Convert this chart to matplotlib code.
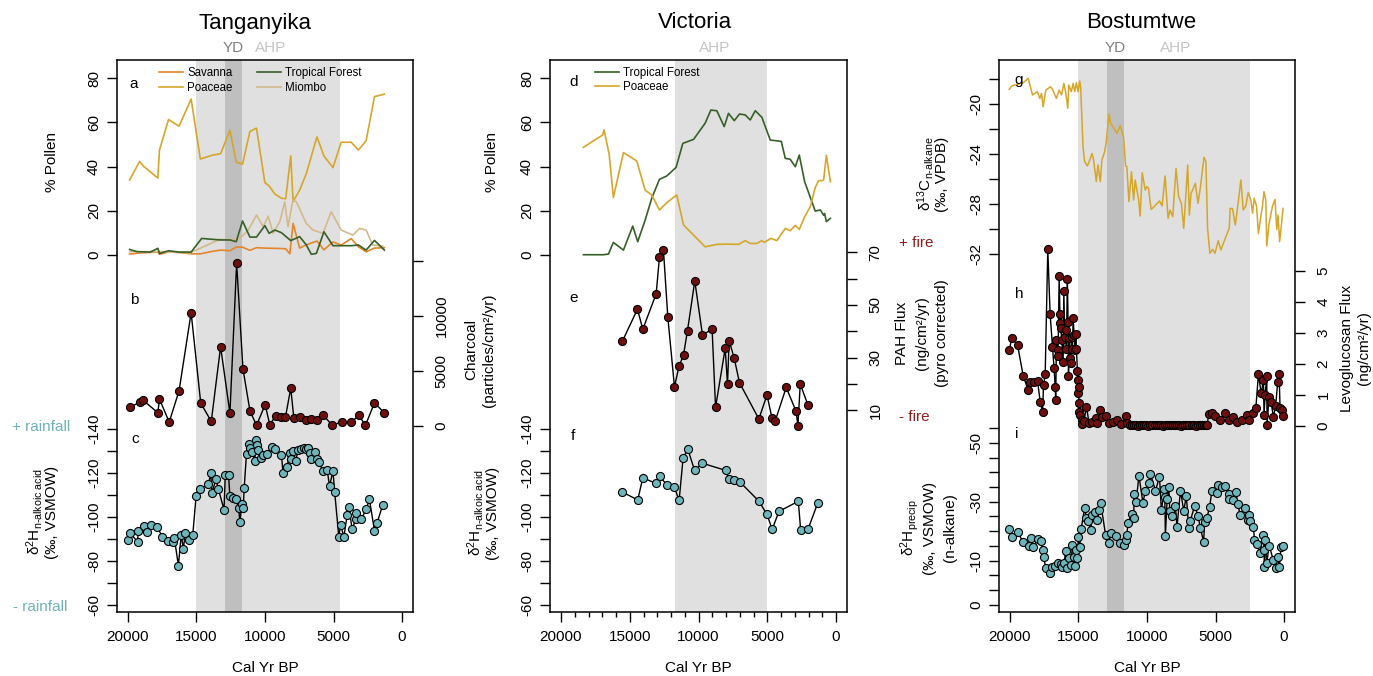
import matplotlib
matplotlib.use('Agg')
import matplotlib.pyplot as plt

plt.rcParams['font.family'] = ['Liberation Sans', 'DejaVu Sans']
plt.rcParams['mathtext.fontset'] = 'custom'
plt.rcParams['mathtext.rm'] = 'Liberation Sans'
plt.rcParams['mathtext.it'] = 'Liberation Sans:italic'
plt.rcParams['mathtext.default'] = 'rm'

# ---------------- DATA ----------------
# Tanganyika pollen (%)
T_poa_age = [19880, 19150, 18860, 17820, 17700, 17040, 16270, 15390, 14720, 13870, 13240, 12560, 12100, 11640,
             11100, 10620, 10010, 9700, 9290, 8800, 8490, 8120, 7950, 7470, 6980, 6210, 5700, 5040, 4440, 3710,
             3180, 2620, 2010, 1290]
T_poa_val = [33.9, 42.3, 40.1, 34.8, 47.5, 61.3, 58.3, 70.6, 43.4, 45.1, 45.8, 56.4, 42.0, 41.1,
             55.9, 57.4, 32.7, 31.2, 27.6, 25.6, 25.4, 44.8, 24.2, 29.3, 36.9, 53.4, 44.8, 39.5, 51.0, 51.0,
             47.5, 51.7, 71.7, 72.8]
T_sav_age = [19880, 19150, 18860, 17820, 17700, 17040, 16270, 15390, 14720, 13870, 13240, 12560, 12100, 11640,
             11100, 10620, 10010, 9290, 8800, 8490, 8190, 7950, 7470, 6980, 6210, 5700, 5040, 4440, 3710, 3180,
             2620, 2010, 1290]
T_sav_val = [0.3, 0.8, 0.9, 1.2, 0.2, 1.3, 1.0, 0.4, 0.4, 1.5, 2.1, 1.8, 3.5, 3.4,
             2.0, 3.2, 3.0, 2.9, 2.8, 2.7, 0.4, 14.2, 3.0, 4.5, 6.2, 2.2, 5.8, 4.4, 7.3, 3.6,
             1.3, 3.0, 3.2]
T_tf_age = [19880, 19350, 18380, 17820, 17700, 17040, 16270, 15390, 14620, 13870, 13240, 12560, 12100, 11640,
            11100, 10620, 10010, 9700, 9290, 8800, 8120, 7470, 6980, 6620, 6250, 5700, 5040, 4440, 3710, 3180,
            2620, 2010, 1290]
T_tf_val = [2.4, 1.4, 1.2, 2.9, 0.6, 1.8, 1.2, 1.2, 7.4, 7.0, 6.7, 6.7, 5.9, 15.3,
            8.0, 8.0, 13.2, 9.7, 11.2, 10.0, 6.4, 8.2, 4.4, 0.2, 0.6, 10.4, 4.1, 4.1, 4.1, 4.4,
            2.1, 6.5, 2.1]
T_mio_age = [19880, 17650, 15470, 14740, 13290, 12560, 11830, 11220, 10620, 10130, 9770, 9410, 8920, 8560,
             8320, 7960, 7710, 6990, 6500, 5770, 5170, 4440, 3590, 3100, 2620, 2140, 1410]
T_mio_val = [1.4, 1.4, 0.9, 2.9, 7.0, 6.7, 7.4, 11.2, 18.0, 12.7, 17.5, 9.7, 15.0, 24.0,
             12.7, 24.8, 24.0, 14.2, 11.2, 9.7, 19.5, 11.2, 8.9, 11.9, 11.2, 4.4, 3.9]

# Tanganyika charcoal (particles/cm2/yr)
T_ch_age = [19880, 19150, 18910, 17820, 17700, 16990, 16270, 15390, 14690, 13920, 13240, 12560, 12070, 11610,
            11100, 10620, 9990, 9650, 9210, 8800, 8510, 8120, 7900, 7420, 6980, 6620, 6210, 5750, 5090, 4410,
            3690, 3150, 2670, 2010, 1310]
T_ch_val = [1670, 2120, 2330, 1180, 2420, 330, 3180, 10270, 2060, 390, 7180, 1150, 14760, 5180,
            1360, 30, 1910, 90, 910, 820, 760, 3420, 730, 820, 490, 610, 490, 970, 30, 360,
            330, 940, 30, 2090, 1180]

# Tanganyika dD n-alkoic acid
T_dd_age = [19980, 19880, 19300, 19250, 18810, 18620, 18330, 17890, 17480, 17090, 16730, 16610, 16320, 16120,
            15950, 15830, 15540, 15270, 15030, 14740, 14130, 13960, 13870, 13580, 13410, 12990, 12900, 12660,
            12560, 12320, 12120, 11930, 11830, 11690, 11590, 11520, 11350, 11150, 11060, 10930, 10740, 10690,
            10620, 10500, 10260, 10130, 9890, 9460, 9260, 8800, 8680, 8390, 8190, 8070, 7950, 7760, 7590,
            7350, 7180, 6980, 6860, 6690, 6620, 6380, 6210, 6060, 5770, 5460, 5290, 5040, 4920, 4610, 4490,
            4240, 4000, 3880, 3640, 3390, 3350, 2980, 2620, 2380, 2010, 1820, 1410]
T_dd_val = [-89.4, -92.8, -88.7, -93.5, -95.8, -93.1, -96.3, -95.4, -91.0, -89.1, -88.5, -90.2, -77.8, -91.6,
            -85.4, -92.8, -89.4, -91.9, -109.3, -112.7, -114.8, -119.8, -110.9, -117.2, -112.8, -103.3, -119.1,
            -119.1, -109.3, -108.4, -108.1, -104.2, -97.8, -106.0, -103.9, -113.1, -128.8, -133.0, -131.2,
            -129.7, -125.4, -135.0, -132.7, -130.4, -126.6, -128.2, -128.6, -132.0, -130.7, -128.2, -119.8,
            -122.8, -128.9, -126.3, -130.1, -125.4, -130.4, -130.7, -131.2, -130.9, -131.2, -128.9, -126.3,
            -129.7, -126.5, -124.8, -120.9, -121.3, -114.0, -120.9, -111.5, -90.7, -96.3, -91.0, -101.0,
            -104.6, -94.3, -98.9, -101.9, -98.9, -103.4, -108.0, -93.7, -97.3, -105.4]

# Victoria pollen (%)
V_tf_age = [18370, 16920, 16550, 16190, 15460, 14780, 14420, 13880, 13400, 12840, 12310, 11630, 11140, 10360,
            9520, 9100, 8670, 8130, 7820, 7400, 7020, 6600, 6240, 5870, 5390, 4780, 3980, 3690, 3330, 2960,
            2670, 2280, 1510, 1140, 900, 830, 700, 410]
V_tf_val = [0, 0, 0.3, 5.6, 2.1, 13.0, 5.9, 15.7, 25.6, 34.2, 35.7, 39.6, 50.5, 52.3,
            59.6, 65.6, 65.3, 58.1, 64.1, 60.8, 63.8, 63.4, 61.1, 65.3, 62.3, 52.0, 51.4, 43.7, 43.3, 39.9,
            45.2, 33.1, 19.8, 20.3, 17.9, 18.7, 15.0, 16.5]
V_po_age = [18370, 16970, 16870, 16500, 16190, 15460, 14490, 13880, 13400, 12840, 12310, 11580, 11090, 10360,
            9520, 8670, 7940, 7090, 6600, 6240, 5750, 5390, 5220, 4730, 4300, 3690, 3330, 2960, 2670, 2280,
            1870, 1510, 1260, 1020, 900, 700, 410]
V_po_val = [48.7, 54.3, 56.6, 45.7, 26.0, 46.3, 42.5, 29.3, 27.1, 20.3, 23.6, 27.1, 13.5, 8.9,
            3.6, 4.7, 4.8, 4.7, 6.4, 5.1, 5.1, 6.4, 5.6, 7.4, 6.4, 11.9, 10.9, 13.3, 11.5, 17.2,
            21.8, 30.5, 33.6, 33.6, 33.9, 45.1, 33.1]

# Victoria PAH flux
V_pah_age = [15530, 14440, 14050, 13080, 12840, 12550, 12230, 11750, 11410, 11090, 10800, 10270, 9710, 9010,
             8760, 8060, 7890, 7770, 7400, 7020, 5610, 5020, 4660, 4420, 3620, 2910, 2770, 2600, 2040]
V_pah_val = [36.3, 48.4, 40.8, 54.2, 68.1, 70.9, 45.3, 19.0, 26.8, 31.0, 40.3, 59.1, 38.6, 40.8,
             11.1, 33.5, 20.0, 36.5, 29.7, 20.5, 6.7, 15.8, 7.2, 6.0, 18.7, 9.7, 4.2, 20.0, 12.0]

# Victoria dD n-alkoic acid
V_dd_age = [15530, 14420, 14050, 13110, 12820, 12260, 11750, 11410, 11120, 10780, 10290, 9710, 8030, 7790,
            7400, 6990, 5610, 5020, 4640, 4150, 2740, 2570, 2040, 1340]
V_dd_val = [-111.3, -107.7, -117.8, -115.3, -118.4, -114.3, -113.4, -107.5, -126.8, -130.9, -121.3, -124.4,
            -121.2, -117.4, -116.8, -115.9, -107.2, -101.1, -94.3, -102.5, -107.1, -94.0, -94.3, -106.1]

# Bostumtwe d13C n-alkane
B_c13_age = [20050, 19860, 19640, 19320, 19030, 18670, 18350, 18010, 17820, 17700,
             17580, 17380, 17040, 16900, 16610, 16410, 16240, 16070, 15930, 15780,
             15710, 15520, 15390, 15270, 15150, 15030, 14910, 14840, 14670, 14550,
             14350, 14180, 14010, 13890, 13700, 13580, 13410, 13290, 13090, 12970,
             12780, 12660, 12490, 12190, 11950, 11710, 11560, 11470, 11320, 11130,
             10980, 10860, 10740, 10620, 10500, 10350, 10130, 10010, 9890, 9700,
             9530, 9090, 8900, 8680, 8460, 8320, 8120, 7880, 7690, 7490,
             7320, 7030, 6910, 6790, 6670, 6470, 6280, 6130, 5840, 5700,
             5580, 5410, 5210, 5040, 4800, 4610, 4240, 4000, 3930, 3760,
             3560, 3440, 3150, 2980, 2790, 2620, 2420, 2300, 2180, 2010,
             1870, 1700, 1580, 1460, 1330, 1260, 1090, 850, 660, 530,
             440, 320, 70]
B_c13_val = [-18.86, -18.59, -18.51, -18.43, -18.33, -17.98, -19.31, -19.04, -19.58, -19.18,
             -20.24, -18.91, -18.65, -18.86, -19.58, -18.91, -19.31, -18.38, -19.12, -20.37,
             -18.51, -19.04, -18.38, -19.04, -18.33, -19.04, -18.19, -18.70, -23.42, -24.62,
             -24.96, -24.49, -23.96, -24.54, -26.21, -24.88, -26.21, -24.49, -23.82, -23.03,
             -20.82, -21.57, -21.83, -22.36, -21.75, -22.68, -24.96, -25.02, -27.80, -25.42,
             -27.67, -26.08, -26.88, -27.54, -28.95, -25.50, -26.88, -26.61, -26.74, -28.42,
             -28.26, -27.75, -28.15, -25.76, -29.13, -28.47, -29.00, -25.15, -27.41, -27.94,
             -29.93, -24.88, -28.87, -27.14, -26.88, -26.34, -27.94, -26.88, -24.27, -24.62,
             -29.93, -31.92, -31.60, -31.92, -30.91, -31.65, -30.59, -29.93, -28.34, -28.36,
             -29.66, -28.73, -26.08, -28.47, -28.15, -27.09, -27.67, -28.73, -27.54, -28.15,
             -30.33, -29.00, -28.20, -27.01, -27.67, -31.33, -29.53, -28.20, -27.62, -30.01,
             -28.87, -30.99, -28.34]

# Bostumtwe levoglucosan flux
B_lev_age = [20050, 19860, 19440, 19030, 18670, 18520, 18230, 17990, 17790, 17620,
             17550, 17430, 17240, 17070, 16900, 16780, 16700, 16660, 16610, 16530,
             16490, 16410, 16360, 16340, 16290, 16220, 16120, 16070, 16000, 15930,
             15880, 15810, 15760, 15730, 15660, 15610, 15560, 15490, 15440, 15390,
             15320, 15250, 15200, 15150, 15080, 15040, 15010, 14990, 14960, 14930,
             14900, 14760, 14720, 14600, 14420, 14230, 13990, 13750, 13620, 13430,
             13310, 13020, 12780, 12500, 12170, 11930, 11560, 11440,
             11250, 11100, 10950, 10800, 10650, 10500, 10350, 10200, 10050, 9900,
             9750, 9600, 9450, 9300, 9150, 9000, 8850, 8700, 8550, 8400,
             8250, 8100, 7950, 7800, 7650, 7500, 7350, 7200, 7050, 6900,
             6750, 6600, 6450, 6300, 6150, 6000, 5850, 5700, 5600,
             5500, 5260, 5020, 4660, 4290, 4050, 3690, 3440, 3080, 2720,
             2550, 2230, 2060, 1870, 1670, 1500, 1460, 1380, 1260, 1240,
             1090, 950, 780, 610, 460, 360, 290, 170, 50]
B_lev_val = [2.44, 2.84, 2.59, 1.60, 1.15, 1.42, 1.42, 1.44, 0.78, 0.44,
             1.31, 1.66, 5.70, 3.60, 2.55, 1.85, 1.26, 0.83, 2.76, 2.44,
             2.25, 4.83, 3.60, 3.30, 3.14, 2.76, 2.06, 4.35, 2.87, 3.09,
             2.49, 4.72, 3.35, 1.60, 2.82, 2.17, 2.01, 2.87, 2.49, 3.46,
             2.92, 2.44, 2.95, 2.49, 1.77, 1.47, 1.04, 1.26, 0.72, 0.45,
             0.34, 0.18, 0.04, 0.15, 0.61, 0.10, 0.13, 0.24, 0.08, 0.51,
             0.29, 0.31, 0.08, 0.12, 0.18, 0.05, 0.31, 0.08,
             0.02, 0.03, 0.01, 0.02, 0.00, 0.02, 0.01, 0.03, 0.02, 0.00,
             0.02, 0.01, 0.03, 0.02, 0.01, 0.02, 0.00, 0.02, 0.03, 0.01,
             0.02, 0.02, 0.01, 0.03, 0.02, 0.00, 0.02, 0.01, 0.03, 0.02,
             0.01, 0.02, 0.00, 0.02, 0.01, 0.03, 0.02, 0.01, 0.03,
             0.38, 0.40, 0.31, 0.20, 0.40, 0.18, 0.29, 0.13, 0.18, 0.34,
             0.18, 0.40, 0.56, 1.66, 1.04, 1.47, 0.34, 0.99, 1.60, 0.02,
             0.94, 0.77, 0.29, 0.65, 1.42, 1.66, 0.56, 0.51, 0.32]

# Bostumtwe dD precip (n-alkane)
B_dd_age = [20050, 19860, 19440, 19030, 18640, 18470, 18300, 17990, 17750, 17620,
            17550, 17380, 17090, 16900, 16700, 16530, 16290, 16170, 16050, 15930,
            15810, 15690, 15560, 15440, 15320, 15250, 15150, 15080, 15010, 14910,
            14810, 14550, 14420, 14280, 14110, 13990, 13790, 13620, 13500, 13380,
            13020, 12780, 12660, 12240, 12000, 11690, 11560, 11490, 11370, 11130,
            10960, 10950, 10790, 10590, 10300, 10110, 9870, 9750, 9380, 9090,
            8950, 8730, 8700, 8660, 8530, 8410, 8340, 8170, 7930, 7810,
            7560, 7320, 7130, 6960, 6840, 6520, 6280, 6110, 5870, 5790,
            5620, 5430, 5260, 4900, 4820, 4530, 4290, 4050, 4000, 3690,
            3520, 3370, 3200, 2840, 2640, 2590, 2470, 2230, 2160, 1990,
            1750, 1500, 1460, 1430, 1380, 1260, 1090, 780, 610, 460,
            340, 220, 100]
B_dd_val = [-25.7, -23.1, -24.6, -21.3, -20.0, -22.8, -19.7, -22.2, -21.8, -18.6,
            -16.3, -12.4, -10.7, -12.9, -13.2, -14.1, -13.8, -12.9, -14.3, -18.4,
            -12.4, -15.8, -13.5, -20.3, -16.3, -13.2, -18.6, -15.8, -22.9, -19.7,
            -25.6, -32.8, -29.4, -28.6, -25.4, -30.5, -31.6, -28.8, -32.2, -34.5,
            -23.7, -21.1, -24.5, -23.4, -21.1, -20.3, -22.0, -23.6, -27.9, -30.8,
            -29.4, -37.6, -35.0, -43.9, -34.7, -38.8, -41.3, -44.5, -38.8, -43.5,
            -32.2, -39.2, -36.7, -23.4, -35.8, -39.9, -32.0, -30.2, -33.6, -26.5,
            -38.8, -31.9, -37.1, -26.2, -28.6, -33.6, -30.3, -26.2, -21.4, -28.2,
            -29.6, -33.3, -38.8, -37.9, -40.7, -40.1, -40.4, -37.6, -35.9, -35.6,
            -38.3, -34.1, -30.5, -33.0, -28.8, -30.5, -28.6, -26.5, -22.0, -20.5,
            -17.7, -23.7, -18.6, -12.7, -22.0, -14.1, -20.1, -15.2, -12.4, -16.3,
            -12.7, -19.5, -19.8]

# Periods (Cal yr BP)
T_AHP = (15000, 4500)
V_AHP = (11700, 5000)
B_AHP = (15000, 2500)
YD = (12900, 11700)

XTICKS = [20000, 15000, 10000, 5000, 0]
XLIM = (20800, -800)

# ---------------- STYLE ----------------
C_SAV = '#e3862a'
C_POA = '#d4a62a'
C_TF = '#375f28'
C_MIO = '#d3b98c'
C_FIRE = '#6e1010'
C_DD = '#6db5ba'
C_AHP = '#e0e0e0'
C_YD = '#bfbfbf'

W, H = 1373, 676
fig = plt.figure(figsize=(W / 100, H / 100), dpi=100)


def fx(x):
    return x / W


def fy(y):
    return 1 - y / H


def rect(left, right, top=60, bottom=612):
    return [left / W, 1 - bottom / H, (right - left) / W, (bottom - top) / H]


def box_axes(r, ahp, yd=None, minor=False):
    ax = fig.add_axes(r)
    ax.set_xlim(XLIM)
    ax.set_ylim(0, 1)
    ax.set_yticks([])
    ax.set_xticks(XTICKS)
    ax.set_xticklabels([str(t) for t in XTICKS])
    ax.tick_params(axis='x', direction='out', length=7, width=1, labelsize=11, pad=6)
    if minor:
        ax.set_xticks(list(range(20000, -1, -1000)), minor=True)
        ax.tick_params(axis='x', which='minor', direction='out', length=3.5, width=1)
    for s in ax.spines.values():
        s.set_linewidth(1.1)
    ax.axvspan(ahp[0], ahp[1], color=C_AHP, lw=0, zorder=0)
    if yd is not None:
        ax.axvspan(yd[0], yd[1], color=C_YD, lw=0, zorder=0)
    return ax


def overlay(r, ylim, side, ticks, labels):
    ax = fig.add_axes(r)
    ax.patch.set_visible(False)
    for s in ax.spines.values():
        s.set_visible(False)
    ax.set_xlim(XLIM)
    ax.xaxis.set_visible(False)
    ax.set_ylim(ylim)
    ax.yaxis.set_ticks_position(side)
    ax.set_yticks(ticks)
    ax.set_yticklabels(labels)
    ax.tick_params(axis='y', direction='out', length=7, width=1, labelsize=11,
                   pad=4.5 if side == 'left' else 8.5)
    for t in ax.get_yticklabels():
        t.set_rotation(90)
        t.set_va('center')
        t.set_ha('right' if side == 'left' else 'left')
    return ax


def dots(ax, x, y, fc):
    ax.plot(x, y, '-', color='black', lw=1.0, marker='o', ms=5.8, mfc=fc, mec='black', mew=0.8, zorder=3)


def vtext(x, y, s, **kw):
    fig.text(fx(x), fy(y), s, rotation=90, ha='center', va='center', fontsize=11, **kw)


# --- y scales (bottom, top) so that each record sits in its band ---
YL_POLLEN = (-162.0, 88.3)
YL_CHAR = (-16936, 33245)
YL_DD = (-56.7, -308.0)
YL_PAH = (-66.6, 143.05)
YL_C13 = (-60.49, -16.52)
YL_LEV = (-6.01, 11.80)
YL_DDP = (2.49, -185.26)

# ============ Tanganyika ============
r1 = rect(117, 413)
box_axes(r1, T_AHP, YD)
a1 = overlay(r1, YL_POLLEN, 'left', [0, 20, 40, 60, 80], ['0', '20', '40', '60', '80'])
l_sav, = a1.plot(T_sav_age, T_sav_val, color=C_SAV, lw=1.2, label='Savanna')
l_poa, = a1.plot(T_poa_age, T_poa_val, color=C_POA, lw=1.2, label='Poaceae')
l_mio, = a1.plot(T_mio_age, T_mio_val, color=C_MIO, lw=1.2, label='Miombo')
l_tf, = a1.plot(T_tf_age, T_tf_val, color=C_TF, lw=1.2, label='Tropical Forest')
a1.legend(handles=[l_sav, l_poa, l_tf, l_mio], ncol=2, loc='upper left', bbox_to_anchor=(0.142, 0.987),
          frameon=False, fontsize=8.3, handlelength=2.1, handletextpad=0.35, columnspacing=2.1,
          labelspacing=0.22, borderpad=0, borderaxespad=0)
b1 = overlay(r1, YL_CHAR, 'right', [0, 5000, 10000, 15000], ['0', '5000', '10000', ''])
dots(b1, T_ch_age, T_ch_val, C_FIRE)
c1 = overlay(r1, YL_DD, 'left', list(range(-140, -59, 10)),
             ['-140', '', '-120', '', '-100', '', '-80', '', '-60'])
dots(c1, T_dd_age, T_dd_val, C_DD)

# ============ Victoria ============
r2 = rect(550, 847)
box_axes(r2, V_AHP, None, minor=True)
a2 = overlay(r2, YL_POLLEN, 'left', [0, 20, 40, 60, 80], ['0', '20', '40', '60', '80'])
l_vtf, = a2.plot(V_tf_age, V_tf_val, color=C_TF, lw=1.2, label='Tropical Forest')
l_vpo, = a2.plot(V_po_age, V_po_val, color=C_POA, lw=1.2, label='Poaceae')
a2.legend(handles=[l_vtf, l_vpo], ncol=1, loc='upper left', bbox_to_anchor=(0.152, 0.987),
          frameon=False, fontsize=8.3, handlelength=2.1, handletextpad=0.35,
          labelspacing=0.15, borderpad=0, borderaxespad=0)
b2 = overlay(r2, YL_PAH, 'right', list(range(10, 71, 10)), ['10', '', '30', '', '50', '', '70'])
dots(b2, V_pah_age, V_pah_val, C_FIRE)
c2 = overlay(r2, YL_DD, 'left', list(range(-140, -59, 10)),
             ['-140', '', '-120', '', '-100', '', '-80', '', '-60'])
dots(c2, V_dd_age, V_dd_val, C_DD)

# ============ Bostumtwe ============
r3 = rect(999, 1295)
box_axes(r3, B_AHP, YD)
a3 = overlay(r3, YL_C13, 'left', list(range(-18, -33, -2)),
             ['', '-20', '', '-24', '', '-28', '', '-32'])
a3.plot(B_c13_age, B_c13_val, color=C_POA, lw=1.1)
b3 = overlay(r3, YL_LEV, 'right', [0, 1, 2, 3, 4, 5], ['0', '1', '2', '3', '4', '5'])
dots(b3, B_lev_age, B_lev_val, C_FIRE)
c3 = overlay(r3, YL_DDP, 'left', list(range(-60, 1, 5)),
             ['', '-50', '', '', '', '-30', '', '', '', '-10', '', '', '0'])
dots(c3, B_dd_age, B_dd_val, C_DD)

# ---------------- TEXT ----------------
for x, s in [(255, 'Tanganyika'), (695, 'Victoria'), (1141, 'Bostumtwe')]:
    fig.text(fx(x), fy(23), s, ha='center', va='center', fontsize=16)
for x, s, c in [(233, 'YD', '#7f7f7f'), (271, 'AHP', '#c4c4c4'), (715, 'AHP', '#c4c4c4'),
                (1115, 'YD', '#7f7f7f'), (1176, 'AHP', '#c4c4c4')]:
    fig.text(fx(x), fy(48), s, ha='center', va='center', fontsize=11, color=c)
for x in [265, 698, 1147]:
    fig.text(fx(x), fy(668), 'Cal Yr BP', ha='center', va='center', fontsize=11)

for x, y, s in [(134, 84, 'a'), (134, 300, 'b'), (135, 439, 'c'), (574, 82, 'd'), (574, 298, 'e'),
                (573, 436, 'f'), (1019, 80, 'g'), (1019, 294, 'h'), (1017, 434, 'i')]:
    fig.text(fx(x), fy(y), s, ha='center', va='center', fontsize=11)

# y labels
vtext(52, 162, '% Pollen')
vtext(35, 512, r'δ$^{2}$H$_{\text{n-alkoic acid}}$')
vtext(52, 512, '(‰, VSMOW)')
fig.text(fx(41), fy(427), '+ rainfall', ha='center', va='center', fontsize=11, color='#6fb2b8')
fig.text(fx(40), fy(607), '- rainfall', ha='center', va='center', fontsize=11, color='#6fb2b8')

vtext(471, 350, 'Charcoal')
vtext(489, 350, '(particles/cm²/yr)')
vtext(492, 162, '% Pollen')
vtext(475, 513, r'δ$^{2}$H$_{\text{n-alkoic acid}}$')
vtext(493, 513, '(‰, VSMOW)')
vtext(902, 333, 'PAH Flux')
vtext(922, 333, '(ng/cm²/yr)')
vtext(942, 333, '(pyro corrected)')
fig.text(fx(916), fy(243), '+ fire', ha='center', va='center', fontsize=11, color='#8b2020')
fig.text(fx(914), fy(417), '- fire', ha='center', va='center', fontsize=11, color='#8b2020')

vtext(925, 174, r'δ$^{13}$C$_{\text{n-alkane}}$')
vtext(942, 174, '(‰, VPDB)')
vtext(1347, 348, 'Levoglucosan Flux')
vtext(1364, 348, '(ng/cm²/yr)')
vtext(910, 528, r'δ$^{2}$H$_{\text{precip}}$')
vtext(930, 528, '(‰, VSMOW)')
vtext(950, 528, '(n-alkane)')

fig.savefig('out.png', dpi=100)
